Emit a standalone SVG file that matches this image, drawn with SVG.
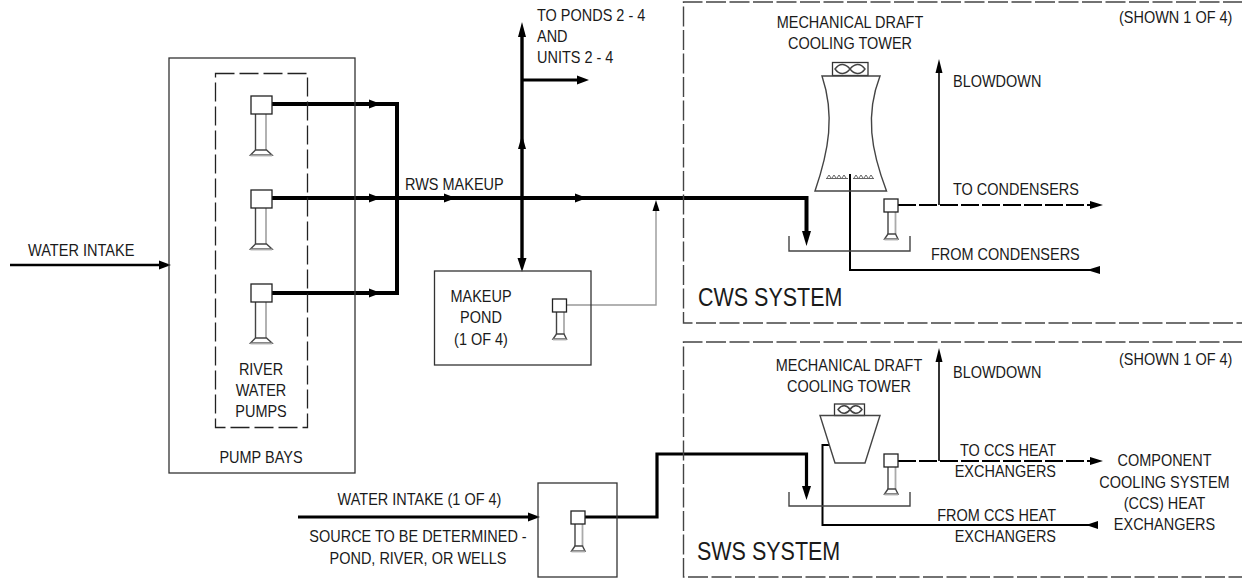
<svg xmlns="http://www.w3.org/2000/svg" width="1242" height="578" viewBox="0 0 1242 578">
<style>
text{font-family:"Liberation Sans",Arial,sans-serif;font-size:16px;fill:#1a1a1a}
.c{text-anchor:middle}
.e{text-anchor:end}
.big{font-size:25px}
.box{fill:none;stroke:#333;stroke-width:1.3}
.dash{fill:none;stroke:#444;stroke-width:1.4;stroke-dasharray:20 3.5}
.dash2{fill:none;stroke:#222;stroke-width:1.3;stroke-dasharray:19 5}
.thick{fill:none;stroke:#000;stroke-width:4}
.th3{fill:none;stroke:#000;stroke-width:3.4}
.mid{fill:none;stroke:#000;stroke-width:2}
.bl{fill:none;stroke:#111;stroke-width:1.7}
.thin{fill:none;stroke:#999;stroke-width:1.4}
.dl{fill:none;stroke:#000;stroke-width:2.2;stroke-dasharray:18 3}
.ln{fill:none;stroke:#444;stroke-width:1.4}
.hd{fill:#000;stroke:none}
.p{fill:#fff;stroke:#222;stroke-width:1.3}
.g{fill:none;stroke:#aaa;stroke-width:1.8}
.s{fill:none;stroke:#666;stroke-width:1}
</style>
<defs>
<g id="pump">
<path class="g" d="M15.500 18V54"/>
<path class="ln" d="M5 18V54"/>
<path class="ln" d="M5 54L0 59H21.500L16 54H5Z"/>
<path class="g" d="M0 59.500H21.500"/>
<rect class="p" x="0.500" y="0" width="21" height="18"/>
</g>
<g id="pumps">
<path class="g" d="M12 13V35"/>
<path class="ln" d="M4.500 13V35"/>
<path class="ln" d="M4.500 35L1 40H14.500L12 35H4.500Z"/>
<path class="g" d="M1 40.500H14.500"/>
<rect class="p" x="0.500" y="0" width="14" height="13"/>
</g>
<path id="ar" class="hd" d="M0 0L-12 -4.500V4.500Z"/>
<path id="as" class="hd" d="M0 0L-13 -4V4Z"/>
</defs>

<g id="connectors">
<path class="mid" d="M10 265H160" style="stroke-width:2.500"/>
<use href="#ar" x="171" y="265"/>
<path class="thick" d="M272 104H397V293H272M272 198H806.500V235"/>
<use href="#ar" x="381" y="104"/>
<use href="#ar" x="381" y="198"/>
<use href="#ar" x="381" y="293"/>
<use href="#ar" x="456" y="198"/>
<use href="#ar" x="587" y="198"/>
<path class="hd" d="M806.500 246L802 231H811Z"/>
<path class="th3" d="M522 30V262"/>
<path class="hd" d="M522 22L518 37H526Z"/>
<path class="hd" d="M522 135L518 149H526Z"/>
<path class="hd" d="M522 272L517.500 258H526.500Z"/>
<path class="th3" d="M522 80H580" style="stroke-width:3"/>
<use href="#ar" x="589" y="80"/>
<path class="thin" d="M567 305H656V210"/>
<path class="hd" d="M656 200L652.500 211H659.500Z"/>
<path class="bl" d="M939 205V70"/>
<path class="hd" d="M939 59L935.500 73H942.500Z"/>
<path class="dl" d="M898 205H1092"/>
<use href="#as" x="1103" y="205"/>
<path class="mid" d="M850 174V270H1090"/>
<path class="hd" d="M1087 270L1100 266V274Z"/>
<path class="th3" d="M298 517H530" style="stroke-width:3"/>
<use href="#ar" x="540" y="517"/>
<path class="thick" d="M585 517H657V454H806.500V490" style="stroke-width:3.200"/>
<path class="hd" d="M806.500 500L802 486H811Z"/>
<path class="bl" d="M939 461V358"/>
<path class="hd" d="M939 348L935.500 362H942.500Z"/>
<path class="dl" d="M898 461H1092"/>
<use href="#as" x="1103" y="461"/>
<path class="mid" d="M829 445H822.500V525H1090"/>
<path class="hd" d="M1086 525L1098 521V529Z"/>
</g>

<g id="pump-bays"><rect class="box" x="169" y="58" width="186" height="415"/><text transform="translate(261 463) scale(.905 1)" class="c">PUMP BAYS</text></g>
<g id="river-water-pumps">
<rect class="dash2" x="215.500" y="73.500" width="92" height="354"/>
<use href="#pump" x="250.500" y="96"/>
<use href="#pump" x="250.500" y="190"/>
<use href="#pump" x="250.500" y="284"/>
<text transform="translate(261 375) scale(.905 1)" class="c">RIVER</text>
<text transform="translate(261 396) scale(.905 1)" class="c">WATER</text>
<text transform="translate(261 417) scale(.905 1)" class="c">PUMPS</text>
</g>
<g id="makeup-pond">
<rect class="box" x="434.500" y="271" width="156.500" height="94"/>
<use href="#pumps" x="552" y="299"/>
<text transform="translate(481 302) scale(.905 1)" class="c">MAKEUP</text>
<text transform="translate(481 323) scale(.905 1)" class="c">POND</text>
<text transform="translate(481 345) scale(.905 1)" class="c">(1 OF 4)</text>
</g>
<g id="intake-box">
<rect class="box" x="538" y="483" width="79" height="94"/>
<use href="#pumps" x="570.500" y="511"/>
</g>

<g id="cws-system">
<path class="dash" d="M1243 2H683.500V323H1243"/>
<text transform="translate(698 306) scale(.86 1)" class="big">CWS SYSTEM</text>
<text transform="translate(1119 23) scale(.905 1)">(SHOWN 1 OF 4)</text>
<text transform="translate(850 28) scale(.905 1)" class="c">MECHANICAL DRAFT</text>
<text transform="translate(850 49) scale(.905 1)" class="c">COOLING TOWER</text>
<text transform="translate(953 87) scale(.905 1)">BLOWDOWN</text>
<text transform="translate(953 195) scale(.905 1)">TO CONDENSERS</text>
<text transform="translate(931 260) scale(.905 1)">FROM CONDENSERS</text>
<g id="cws-tower">
<rect class="box" x="832.500" y="62.500" width="35.500" height="13"/>
<path class="ln" d="M835 69C840 62 846 64 850 69C854 74 860 76 865 69C860 62 854 64 850 69C846 74 840 76 835 69Z"/>
<path class="ln" d="M822 76H880C865 115 871 150 886.500 191H815C829 150 835 115 822 76Z"/>
<path class="s" d="M826 178.500H848M853 178.500H874M827 178L829 175L831 178M832 178L834 175L836 178M837 178L839 175L841 178M842 178L844 175L846 178M854 178L856 175L858 178M859 178L861 175L863 178M864 178L866 175L868 178M869 178L871 175L873 178"/>
</g>
<path class="ln" d="M789 236V251H910V236"/>
<use href="#pumps" x="883.500" y="199"/>
</g>

<g id="sws-system">
<path class="dash" d="M1243 342H683.500V577H1243"/>
<text transform="translate(697 560) scale(.86 1)" class="big">SWS SYSTEM</text>
<text transform="translate(1119 365) scale(.905 1)">(SHOWN 1 OF 4)</text>
<text transform="translate(849 371) scale(.905 1)" class="c">MECHANICAL DRAFT</text>
<text transform="translate(849 392) scale(.905 1)" class="c">COOLING TOWER</text>
<text transform="translate(953 378) scale(.905 1)">BLOWDOWN</text>
<text transform="translate(1056 456) scale(.905 1)" class="e">TO CCS HEAT</text>
<text transform="translate(1056 477) scale(.905 1)" class="e">EXCHANGERS</text>
<text transform="translate(1056 521) scale(.905 1)" class="e">FROM CCS HEAT</text>
<text transform="translate(1056 542) scale(.905 1)" class="e">EXCHANGERS</text>
<g id="sws-tower">
<rect class="box" x="834.500" y="404" width="30" height="11.500"/>
<path class="ln" d="M838 409.500C842 404 847 405 850 409.500C853 414 858 415 862 409.500C858 404 853 405 850 409.500C847 414 842 415 838 409.500Z"/>
<path class="ln" d="M820 415.500H880L865 463H835Z"/>
</g>
<path class="ln" d="M789 492V506H910V492"/>
<use href="#pumps" x="883.500" y="454"/>
</g>

<g id="labels">
<text transform="translate(28 256) scale(.91 1)">WATER INTAKE</text>
<text transform="translate(405 190) scale(.905 1)">RWS MAKEUP</text>
<text transform="translate(537 21) scale(.905 1)">TO PONDS 2 - 4</text>
<text transform="translate(537 42) scale(.905 1)">AND</text>
<text transform="translate(537 63) scale(.905 1)">UNITS 2 - 4</text>
<text transform="translate(419.500 505) scale(.905 1)" class="c">WATER INTAKE (1 OF 4)</text>
<text transform="translate(418 542) scale(.905 1)" class="c">SOURCE TO BE DETERMINED -</text>
<text transform="translate(418 564) scale(.905 1)" class="c">POND, RIVER, OR WELLS</text>
</g>
<g id="ccs-heat-exchangers">
<text transform="translate(1164.500 466) scale(.905 1)" class="c">COMPONENT</text>
<text transform="translate(1164.500 488) scale(.905 1)" class="c">COOLING SYSTEM</text>
<text transform="translate(1164.500 509) scale(.905 1)" class="c">(CCS) HEAT</text>
<text transform="translate(1164.500 530) scale(.905 1)" class="c">EXCHANGERS</text>
</g>
</svg>
